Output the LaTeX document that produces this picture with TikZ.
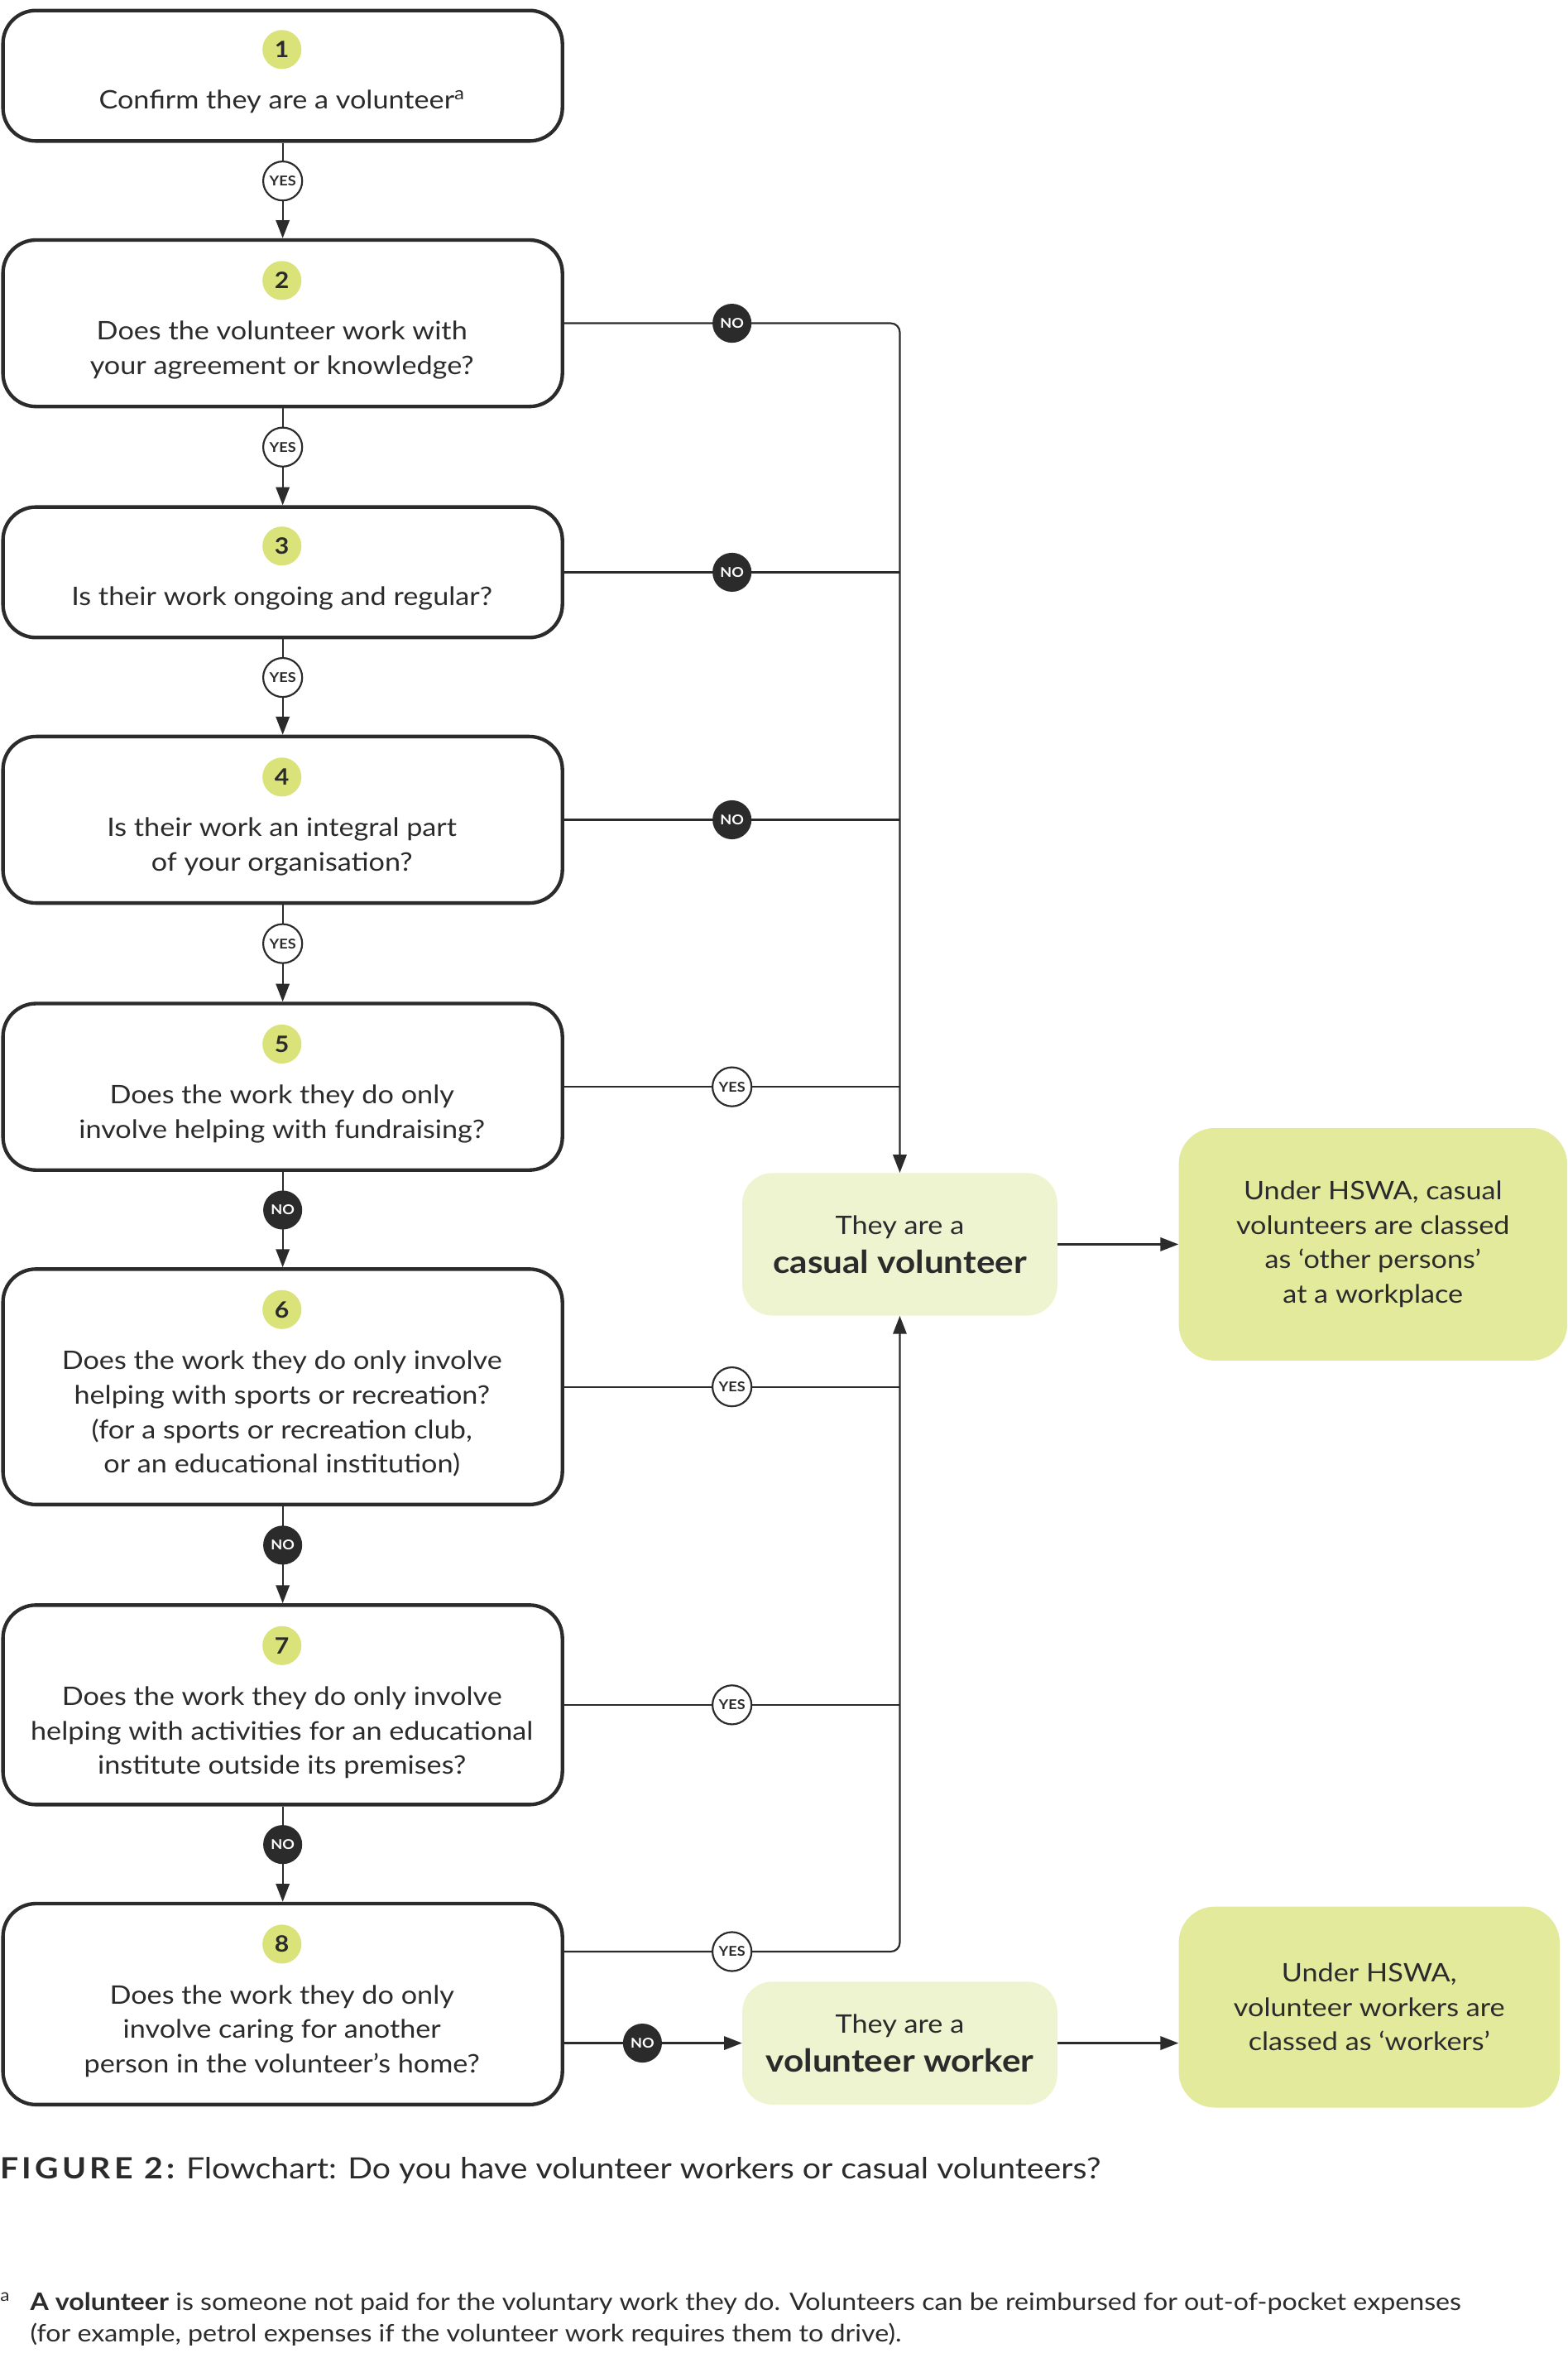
\documentclass[tikz,border=0pt]{standalone}
\usepackage{fontspec}
\setmainfont{Lato}[FakeStretch=1.11]
\usetikzlibrary{arrows.meta}

\definecolor{ink}{HTML}{2B2B2B}
\definecolor{numgreen}{HTML}{D9E37A}
\definecolor{palegreen}{HTML}{EFF4D0}
\definecolor{midgreen}{HTML}{E3EA9C}

\tikzset{
  qbox/.style={draw=ink, line width=2.4pt, rounded corners=22pt, minimum width=373pt, inner sep=0pt},
  numdot/.style={circle, fill=numgreen, minimum size=26pt, inner sep=0pt, text=ink, font=\fontsize{15}{15}\selectfont\bfseries},
  qtext/.style={align=center, inner sep=0pt, text=ink, font=\fontsize{17}{23}\selectfont},
  link/.style={draw=ink, line width=1.2pt},
  arr/.style={link, -{Triangle[length=12pt,width=9pt]}},
  yeslbl/.style={circle, draw=ink, fill=white, line width=1.2pt, minimum size=26pt, inner sep=0pt, text=ink, font=\fontsize{9}{9}\selectfont\bfseries},
  nolbl/.style={circle, fill=ink, text=white, minimum size=26pt, inner sep=0pt, font=\fontsize{9}{9}\selectfont\bfseries},
  result/.style={fill=palegreen, rounded corners=20pt, minimum width=210pt, inner sep=0pt, align=center, text=ink, font=\fontsize{17}{26}\selectfont},
  outcome/.style={fill=midgreen, rounded corners=24pt, inner sep=0pt, align=center, text=ink, font=\fontsize{17}{23}\selectfont},
}

\begin{document}
\begin{tikzpicture}[x=1pt, y=-1pt]
	\useasboundingbox (0,0) rectangle (1045,1568.6);

	% Question boxes
	\node (q1) at (188.5,50.5) [qbox, minimum height=87pt] {};
	\node (q2) at (188.5,215.5) [qbox, minimum height=111pt] {};
	\node (q3) at (188.5,381.5) [qbox, minimum height=87pt] {};
	\node (q4) at (188.5,546.5) [qbox, minimum height=111pt] {};
	\node (q5) at (188.5,724.5) [qbox, minimum height=111pt] {};
	\node (q6) at (188.5,924.5) [qbox, minimum height=157pt] {};
	\node (q7) at (188.5,1136.5) [qbox, minimum height=133pt] {};
	\node (q8) at (188.5,1336) [qbox, minimum height=134pt] {};

	% Step numbers
	\foreach \k/\y in {1/33, 2/187, 3/364, 4/518, 5/696, 6/873, 7/1097, 8/1296}
		\node (n\k) at (188,\y) [numdot] {\k};

	% Questions
	\node (t1) at (188,68) [qtext] {Confirm they are a volunteer\textsuperscript{a}};
	\node (t2) at (188,233.5) [qtext] {Does the volunteer work with\\your agreement or knowledge?};
	\node (t3) at (188,399) [qtext] {Is their work ongoing and regular?};
	\node (t4) at (188,564.5) [qtext] {Is their work an integral part\\of your organisation?};
	\node (t5) at (188,742.5) [qtext] {Does the work they do only\\involve helping with fundraising?};
	\node (t6) at (188,942.5) [qtext] {Does the work they do only involve\\helping with sports or recreation?\\(for a sports or recreation club,\\or an educational institution)};
	\node (t7) at (188,1155) [qtext] {Does the work they do only involve\\helping with activities for an educational\\institute outside its premises?};
	\node (t8) at (188,1354) [qtext] {Does the work they do only\\involve caring for another\\person in the volunteer’s home?};

	% Results
	\node (cv) at (600,829.5) [result, minimum height=95pt] {They are a\\{\fontsize{21}{26}\selectfont\bfseries casual volunteer}};
	\node (vw) at (600,1362) [result, minimum height=82pt] {They are a\\{\fontsize{21}{26}\selectfont\bfseries volunteer worker}};
	\node (hs1) at (915.5,829.5) [outcome, minimum width=259pt, minimum height=155pt] {Under HSWA, casual\\volunteers are classed\\as ‘other persons’\\at a workplace};
	\node (hs2) at (913,1338) [outcome, minimum width=254pt, minimum height=134pt] {Under HSWA,\\volunteer workers are\\classed as ‘workers’};

	% Down the questions
	\draw[arr] (q1.south) -- node[yeslbl, pos=0.4] (y1) {YES} (q2.north);
	\draw[arr] (q2.south) -- node[yeslbl, pos=0.4] (y2) {YES} (q3.north);
	\draw[arr] (q3.south) -- node[yeslbl, pos=0.4] (y3) {YES} (q4.north);
	\draw[arr] (q4.south) -- node[yeslbl, pos=0.4] (y4) {YES} (q5.north);
	\draw[arr] (q5.south) -- node[nolbl, pos=0.4] (y5) {NO} (q6.north);
	\draw[arr] (q6.south) -- node[nolbl, pos=0.4] (y6) {NO} (q7.north);
	\draw[arr] (q7.south) -- node[nolbl, pos=0.4] (y7) {NO} (q8.north);

	% Into casual volunteer
	\draw[arr, rounded corners=6pt] (q2.east) -- node[nolbl] (x2) {NO} (q2.east -| cv.north) -- (cv.north);
	\draw[link] (q3.east) -- node[nolbl] (x3) {NO} (q3.east -| cv.north);
	\draw[link] (q4.east) -- node[nolbl] (x4) {NO} (q4.east -| cv.north);
	\draw[link] (q5.east) -- node[yeslbl] (x5) {YES} (q5.east -| cv.north);
	\draw[link] (q6.east) -- node[yeslbl] (x6) {YES} (q6.east -| cv.south);
	\draw[link] (q7.east) -- node[yeslbl] (x7) {YES} (q7.east -| cv.south);
	\draw[arr, rounded corners=6pt] ([yshift=35pt]q8.east) -- node[yeslbl] (x8) {YES} ([yshift=35pt]q8.east -| cv.south) -- (cv.south);

	% Into volunteer worker
	\draw[arr] (q8.east |- vw.west) -- node[nolbl, pos=0.44] (x9) {NO} (vw.west);

	% Outcomes
	\draw[arr] (cv.east) -- (hs1.west);
	\draw[arr] (vw.east) -- (vw.east -| hs2.west);

	% Caption and footnote
	\node (cap) at (0,1447) [anchor=west, inner sep=0pt, text=ink, font=\fontsize{19.5}{22}\selectfont] {{\bfseries\addfontfeature{LetterSpace=12}FIGURE 2:} Flowchart: Do you have volunteer workers or casual volunteers?};
	\node (fn) at (0,1546) [anchor=west, inner sep=0pt, align=left, text=ink, font=\fontsize{16}{21}\selectfont] {\makebox[20pt][l]{\textsuperscript{a}}\textbf{A volunteer} is someone not paid for the voluntary work they do. Volunteers can be reimbursed for out-of-pocket expenses\\\hspace*{20pt}(for example, petrol expenses if the volunteer work requires them to drive).};
\end{tikzpicture}
\end{document}
